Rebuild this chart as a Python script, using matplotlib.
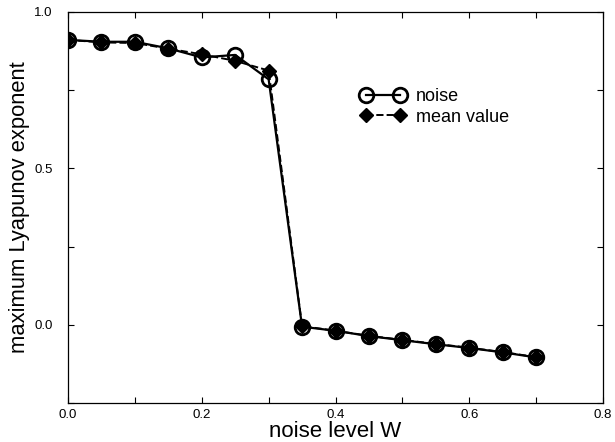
import matplotlib
matplotlib.use("Agg")
import matplotlib.pyplot as plt
from matplotlib.ticker import MultipleLocator

plt.rcParams['font.family'] = ['Liberation Sans', 'DejaVu Sans']

W = [0.0, 0.05, 0.1, 0.15, 0.2, 0.25, 0.3, 0.35, 0.4, 0.45, 0.5, 0.55, 0.6, 0.65, 0.7]
noise = [0.910, 0.904, 0.904, 0.883, 0.854, 0.862, 0.784, -0.006, -0.019, -0.036, -0.049, -0.062, -0.074, -0.088, -0.104]
mean_value = [0.910, 0.902, 0.900, 0.882, 0.864, 0.843, 0.812, -0.004, -0.019, -0.035, -0.048, -0.061, -0.073, -0.087, -0.103]

fig = plt.figure(figsize=(6.15, 4.42), dpi=100)
ax = fig.add_axes([0.1106, 0.088, 0.8699, 0.8855])

ax.plot(W, mean_value, '--', color='black', lw=1.4, marker='D', ms=7,
        mfc='black', mec='black', label='mean value', zorder=3)
ax.plot(W, noise, '-', color='black', lw=1.6, marker='o', ms=10.5,
        mfc='none', mec='black', mew=2.0, label='noise', zorder=4)

ax.set_xlim(0, 0.8)
ax.set_ylim(-0.25, 1.0)
ax.xaxis.set_major_locator(MultipleLocator(0.2))
ax.xaxis.set_minor_locator(MultipleLocator(0.1))
ax.yaxis.set_major_locator(MultipleLocator(0.5))
ax.yaxis.set_minor_locator(MultipleLocator(0.25))
ax.xaxis.set_major_formatter(plt.FormatStrFormatter('%.1f'))
ax.yaxis.set_major_formatter(plt.FormatStrFormatter('%.1f'))
ax.tick_params(which='both', direction='in', top=True, right=True, labelsize=9.5, length=4, width=0.8)
ax.tick_params(axis='x', which='major', pad=4)
ax.tick_params(axis='y', which='major', pad=11)
for s in ax.spines.values():
    s.set_linewidth(0.9)

ax.set_xlabel('noise level W', fontsize=16, labelpad=0)
ax.set_ylabel('maximum Lyapunov exponent', fontsize=15.8, labelpad=3)

h, l = ax.get_legend_handles_labels()
ax.legend([h[1], h[0]], [l[1], l[0]], loc='upper left', bbox_to_anchor=(0.546, 0.805),
          frameon=False, fontsize=13, handlelength=2.5, handletextpad=0.6,
          labelspacing=0.2, numpoints=2, borderpad=0, borderaxespad=0)

fig.savefig('out.png', dpi=100)
